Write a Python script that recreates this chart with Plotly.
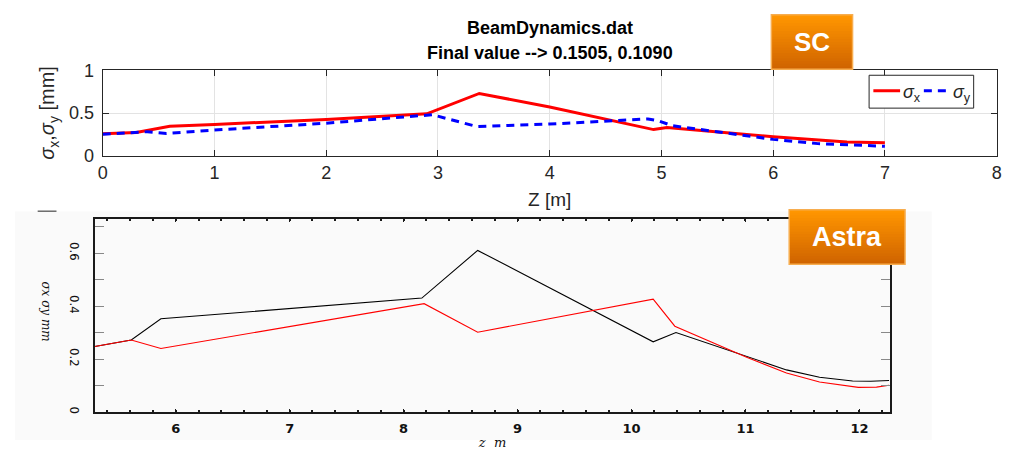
import plotly.graph_objects as go

# ---------------- data ----------------
# Top panel (SC): BeamDynamics.dat
sc_z_x = [0, 0.3, 0.6, 1.0, 2.0, 2.9, 3.37, 4.0, 4.93, 5.05, 6.0, 6.66, 7.0]
sc_sigma_x = [0.255, 0.27, 0.345, 0.365, 0.425, 0.49, 0.73, 0.57, 0.305, 0.33, 0.22, 0.158, 0.1505]
sc_z_y = [0, 0.4, 0.57, 1.0, 2.0, 2.95, 3.35, 4.0, 4.88, 4.97, 5.1, 6.0, 6.4, 7.0]
sc_sigma_y = [0.25, 0.28, 0.26, 0.30, 0.38, 0.48, 0.34, 0.37, 0.43, 0.41, 0.35, 0.19, 0.14, 0.109]
sc_xticks = [0, 1, 2, 3, 4, 5, 6, 7, 8]
sc_yticks = [0, 0.5, 1]
sc_yticklabels = ["0", "0.5", "1"]
sc_legend = ["<i>σ</i><sub>x</sub>", "<i>σ</i><sub>y</sub>"]

# Bottom panel (Astra)
astra_z_x = [5.29, 5.61, 5.87, 8.16, 8.65, 10.19, 10.39, 11.01, 11.36, 11.65, 11.94, 12.1, 12.26]
astra_sigma_x = [0.248, 0.273, 0.353, 0.431, 0.611, 0.266, 0.301, 0.212, 0.16, 0.132, 0.118, 0.117, 0.12]
astra_z_y = [5.29, 5.61, 5.87, 8.18, 8.65, 10.19, 10.38, 11.01, 11.36, 11.65, 11.99, 12.15, 12.26]
astra_sigma_y = [0.248, 0.273, 0.241, 0.41, 0.302, 0.427, 0.325, 0.208, 0.148, 0.114, 0.094, 0.095, 0.102]
astra_xticks = [6, 7, 8, 9, 10, 11, 12]
astra_yticks = [0, 0.2, 0.4, 0.6]
astra_yticklabels = ["0", "0.2", "0.4", "0.6"]

W, H = 1015, 450


def fx(p):
    return p / W


def fy(p):
    return 1 - p / H


fig = go.Figure()

red_line = dict(color="#ff0000", width=3)
blue_line = dict(color="#0000ff", width=3, dash="8px,6px")

# top traces
fig.add_trace(go.Scatter(x=sc_z_x, y=sc_sigma_x, mode="lines", name=sc_legend[0],
                         line=red_line, xaxis="x", yaxis="y", showlegend=False))
fig.add_trace(go.Scatter(x=sc_z_y, y=sc_sigma_y, mode="lines", name=sc_legend[1],
                         line=blue_line, xaxis="x", yaxis="y", showlegend=False))
# bottom traces
fig.add_trace(go.Scatter(x=astra_z_x, y=astra_sigma_x, mode="lines", showlegend=False,
                         line=dict(color="#000000", width=1.1), xaxis="x2", yaxis="y2"))
fig.add_trace(go.Scatter(x=astra_z_y, y=astra_sigma_y, mode="lines", showlegend=False,
                         line=dict(color="#ff0000", width=1.1), xaxis="x2", yaxis="y2"))

axis_col = "#262626"
font_main = "Liberation Sans, Arial, sans-serif"

shapes = []
# gray backdrop of the Astra screenshot
shapes.append(dict(type="rect", xref="paper", yref="paper", layer="below",
                   x0=fx(10), x1=fx(936), y0=fy(450), y1=fy(211),
                   fillcolor="#fafafa", line=dict(width=0)))
shapes.append(dict(type="line", xref="paper", yref="paper",
                   x0=fx(33), x1=fx(52), y0=fy(210.5), y1=fy(210.5),
                   line=dict(color="#222222", width=1)))


def badge(x0, x1, y0, y1, text, size):
    n = 20
    top = (255, 150, 0)
    bot = (208, 100, 0)
    for i in range(n):
        t = i / (n - 1)
        c = tuple(int(round(top[k] + (bot[k] - top[k]) * t)) for k in range(3))
        ya = y0 + (y1 - y0) * i / n
        yb = min(y1, y0 + (y1 - y0) * (i + 1) / n + 1)
        shapes.append(dict(type="rect", xref="paper", yref="paper",
                           x0=fx(x0), x1=fx(x1), y0=fy(yb), y1=fy(ya),
                           fillcolor="rgb(%d,%d,%d)" % c, line=dict(width=0)))
    shapes.append(dict(type="rect", xref="paper", yref="paper",
                       x0=fx(x0), x1=fx(x1), y0=fy(y1), y1=fy(y0),
                       fillcolor="rgba(0,0,0,0)", line=dict(color="#f7ad4f", width=1.5)))
    return dict(x=fx((x0 + x1) / 2), y=fy((y0 + y1) / 2), xref="paper", yref="paper",
                text="<b>%s</b>" % text, showarrow=False, xanchor="center", yanchor="middle",
                font=dict(family=font_main, size=size, color="white"))


annotations = []
annotations.append(badge(774, 856, 5, 62, "SC", 26))
annotations.append(badge(792, 909, 209, 266, "Astra", 27))

# legend box (top panel)
shapes.append(dict(type="rect", xref="paper", yref="paper",
                   x0=fx(872.7), x1=fx(978.3), y0=fy(102.7), y1=fy(68.3),
                   fillcolor="white", line=dict(color=axis_col, width=1)))
shapes.append(dict(type="line", xref="paper", yref="paper",
                   x0=fx(877), x1=fx(904), y0=fy(84.5), y1=fy(84.5), line=red_line))
shapes.append(dict(type="line", xref="paper", yref="paper",
                   x0=fx(928), x1=fx(952), y0=fy(84.5), y1=fy(84.5), line=blue_line))
annotations.append(dict(x=fx(904.5), y=fy(87), xref="paper", yref="paper", showarrow=False,
                        text=sc_legend[0], xanchor="left", yanchor="middle",
                        font=dict(family=font_main, size=18, color=axis_col)))
annotations.append(dict(x=fx(955.5), y=fy(87), xref="paper", yref="paper", showarrow=False,
                        text=sc_legend[1], xanchor="left", yanchor="middle",
                        font=dict(family=font_main, size=18, color=axis_col)))

# top title
annotations.append(dict(x=fx(550), y=fy(19), xref="paper", yref="paper", showarrow=False,
                        text="<b>BeamDynamics.dat</b>", xanchor="center", yanchor="middle",
                        font=dict(family=font_main, size=18, color="#000000")))
annotations.append(dict(x=fx(550), y=fy(45), xref="paper", yref="paper", showarrow=False,
                        text="<b>Final value --&gt; 0.1505, 0.1090</b>", xanchor="center", yanchor="middle",
                        font=dict(family=font_main, size=18, color="#000000")))
# top axis titles
annotations.append(dict(x=fx(550), y=fy(198), xref="paper", yref="paper", showarrow=False,
                        text="Z [m]", xanchor="center", yanchor="middle",
                        font=dict(family=font_main, size=19, color=axis_col)))
annotations.append(dict(x=fx(44), y=fy(108), xref="paper", yref="paper", showarrow=False,
                        text="<i>σ</i><sub>x</sub>,<i>σ</i><sub>y</sub> [mm]", textangle=-90,
                        xanchor="center", yanchor="middle",
                        font=dict(family=font_main, size=20, color=axis_col)))
# bottom y axis title
annotations.append(dict(x=fx(41), y=fy(315), xref="paper", yref="paper", showarrow=False,
                        text="<i>σx σy mm</i>", textangle=90, xanchor="center", yanchor="middle",
                        font=dict(family="DejaVu Serif, serif", size=12, color="#111111")))

fig.update_layout(
    width=W, height=H,
    margin=dict(l=0, r=0, t=0, b=0),
    paper_bgcolor="white",
    plot_bgcolor="rgba(0,0,0,0)",
    showlegend=False,
    xaxis=dict(domain=[fx(98.7), fx(1001.5)], range=[0, 8], tickvals=sc_xticks,
               showline=True, linecolor=axis_col, linewidth=1, mirror="ticks",
               ticks="inside", ticklen=6, tickcolor=axis_col,
               showgrid=True, gridcolor="#e3e3e3", zeroline=False,
               tickfont=dict(family=font_main, size=18, color=axis_col),
               ticklabelstandoff=1, anchor="y"),
    yaxis=dict(domain=[fy(152.3), fy(63.3)], range=[0, 1], tickvals=sc_yticks,
               ticktext=sc_yticklabels,
               showline=True, linecolor=axis_col, linewidth=1, mirror="ticks",
               ticks="inside", ticklen=6, tickcolor=axis_col,
               showgrid=True, gridcolor="#e3e3e3", zeroline=False,
               tickfont=dict(family=font_main, size=18, color=axis_col),
               ticklabelstandoff=4, anchor="x"),
    xaxis2=dict(domain=[fx(90.7), fx(894)], range=[5.29, 12.27], tickvals=astra_xticks,
                showline=True, linecolor="#1a1a1a", linewidth=1.5, mirror="ticks",
                ticks="inside", ticklen=4, tickcolor="#1a1a1a", tickwidth=1.2,
                minor=dict(dtick=0.2, ticks="inside", ticklen=2.5, tickcolor="#1a1a1a", tickwidth=1.5),
                showgrid=False, zeroline=False,
                tickfont=dict(family="DejaVu Sans, sans-serif", size=13, color="#111111", weight="bold"),
                ticklabelstandoff=3, anchor="y2",
                title=dict(text="<i>z  m</i>", standoff=5,
                           font=dict(family="DejaVu Serif, serif", size=13, color="#111111")),
                automargin=False),
    yaxis2=dict(domain=[fy(421), fy(218.3)], range=[0, 0.731], tickvals=astra_yticks,
                ticktext=astra_yticklabels,
                showline=True, linecolor="#1a1a1a", linewidth=1.5, mirror="ticks",
                ticks="inside", ticklen=9, tickcolor="#888888", tickwidth=1.2,
                minor=dict(dtick=0.1, ticks="inside", ticklen=9, tickcolor="#888888", tickwidth=1.2),
                showgrid=False, zeroline=False, tickangle=90,
                tickfont=dict(family="DejaVu Sans Condensed, DejaVu Sans, sans-serif", size=13, color="#111111"),
                ticklabelstandoff=7, anchor="x2"),
    shapes=shapes,
    annotations=annotations,
)

fig.write_html("out.html")
